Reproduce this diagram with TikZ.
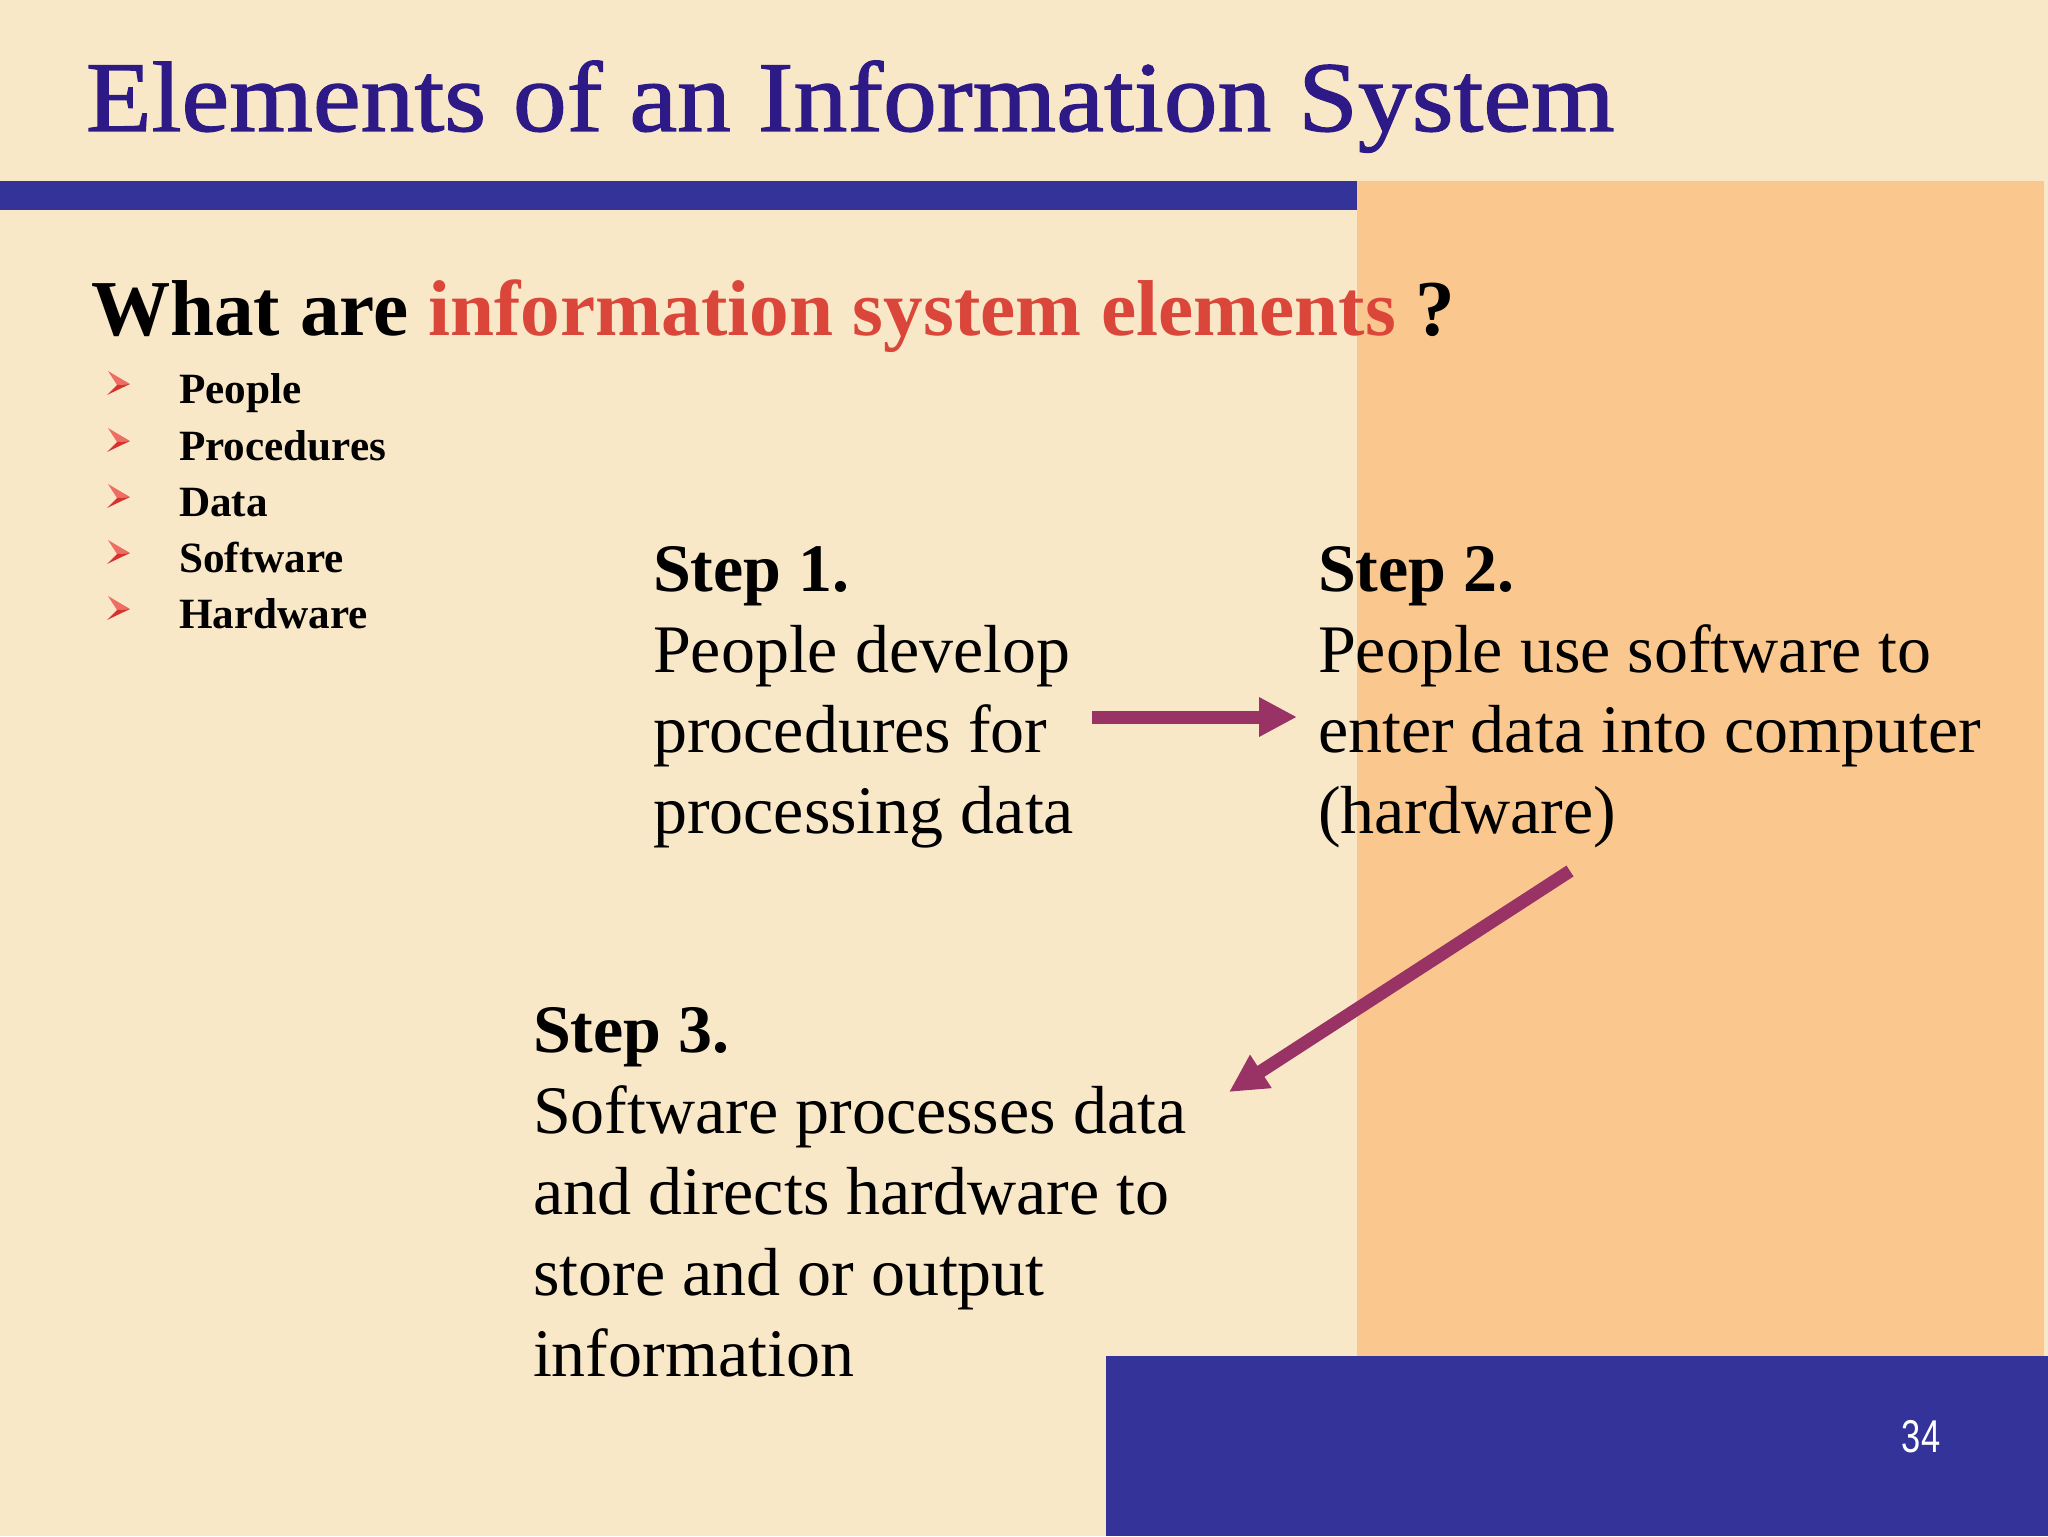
\documentclass[tikz,border=0pt]{standalone}
\usepackage{fontspec}
\setmainfont{Liberation Serif}
\newfontfamily\titlefont[FakeBold=1.2]{Liberation Serif}
\newfontfamily\numfont{Liberation Sans}
\usetikzlibrary{arrows.meta}
\definecolor{bgcream}{RGB}{249,232,200}
\definecolor{panelor}{RGB}{250,200,142}
\definecolor{slideblue}{RGB}{51,51,153}
\definecolor{titlecol}{RGB}{46,26,135}
\definecolor{redtxt}{RGB}{218,70,58}
\definecolor{arrowcol}{RGB}{153,51,102}
\definecolor{bulhi}{RGB}{238,110,100}
\definecolor{bullo}{RGB}{215,50,45}
\begin{document}
\begin{tikzpicture}[x=0.5pt,y=-0.5pt,
  txt/.style={anchor=base west, inner sep=0, outer sep=0},
  steptxt/.style={txt, font=\fontsize{34}{40}\selectfont},
  stephead/.style={txt, font=\fontsize{34}{40}\selectfont\bfseries},
  bultxt/.style={txt, font=\fontsize{21.6}{26}\selectfont\bfseries},
  flow/.style={draw=arrowcol, line width=6.5pt, -{Triangle[length=19pt,width=18.5pt]}},
  bullet/.pic={
    \fill[bulhi] (0,0) -- (-22,-13) -- (-13,1) -- cycle;
    \fill[bullo] (0,0) -- (-13,1) -- (-23,11) -- cycle;
  }]
\useasboundingbox (0,0) rectangle (2048,1536);
% background and panels
\fill[bgcream] (0,0) rectangle (2048,1536);
\fill[panelor] (1357,181) rectangle (2044,1356);
\fill[slideblue] (0,181) rectangle (1357,210);
\fill[slideblue] (1106,1356) rectangle (2048,1536);
% title
\node[txt, font=\titlefont\fontsize{50}{60}\selectfont, text=titlecol, xscale=1.075] (title) at (86,131) {Elements of an Information System};
% question
\node[txt, font=\fontsize{39.6}{48}\selectfont\bfseries] (question) at (91,335) {What are \textcolor{redtxt}{information system elements} ?};
% bullets
\pic at (130,384) {bullet};
\pic at (130,441) {bullet};
\pic at (130,497) {bullet};
\pic at (130,553) {bullet};
\pic at (130,609) {bullet};
\node[bultxt] (b1) at (179,403) {People};
\node[bultxt] (b2) at (179,460) {Procedures};
\node[bultxt] (b3) at (179,516) {Data};
\node[bultxt] (b4) at (179,572) {Software};
\node[bultxt] (b5) at (179,628) {Hardware};
% step 1
\node[stephead] (s1h) at (653,591) {Step 1.};
\node[steptxt] (s1a) at (653,672) {People develop};
\node[steptxt] (s1b) at (653,752) {procedures for};
\node[steptxt] (s1c) at (653,833) {processing data};
% step 2
\node[stephead] (s2h) at (1318,591) {Step 2.};
\node[steptxt] (s2a) at (1318,672) {People use software to};
\node[steptxt] (s2b) at (1318,752) {enter data into computer};
\node[steptxt] (s2c) at (1318,833) {(hardware)};
% step 3
\node[stephead] (s3h) at (533,1052) {Step 3.};
\node[steptxt] (s3a) at (533,1133) {Software processes data};
\node[steptxt] (s3b) at (533,1214) {and directs hardware to};
\node[steptxt] (s3c) at (533,1295) {store and or output};
\node[steptxt] (s3d) at (533,1376) {information};
% connectors
\coordinate (a1s) at (1092,717);
\coordinate (a1e) at (1297,717);
\coordinate (a2s) at (1570,871);
\coordinate (a2e) at (1229,1092);
\draw[flow] (a1s) -- (a1e);
\draw[flow] (a2s) -- (a2e);
% page number
\node[font=\numfont\fontsize{23}{26}\selectfont, text=white, inner sep=0, xscale=0.75] (pg) at (1921,1437) {34};
\end{tikzpicture}
\end{document}
